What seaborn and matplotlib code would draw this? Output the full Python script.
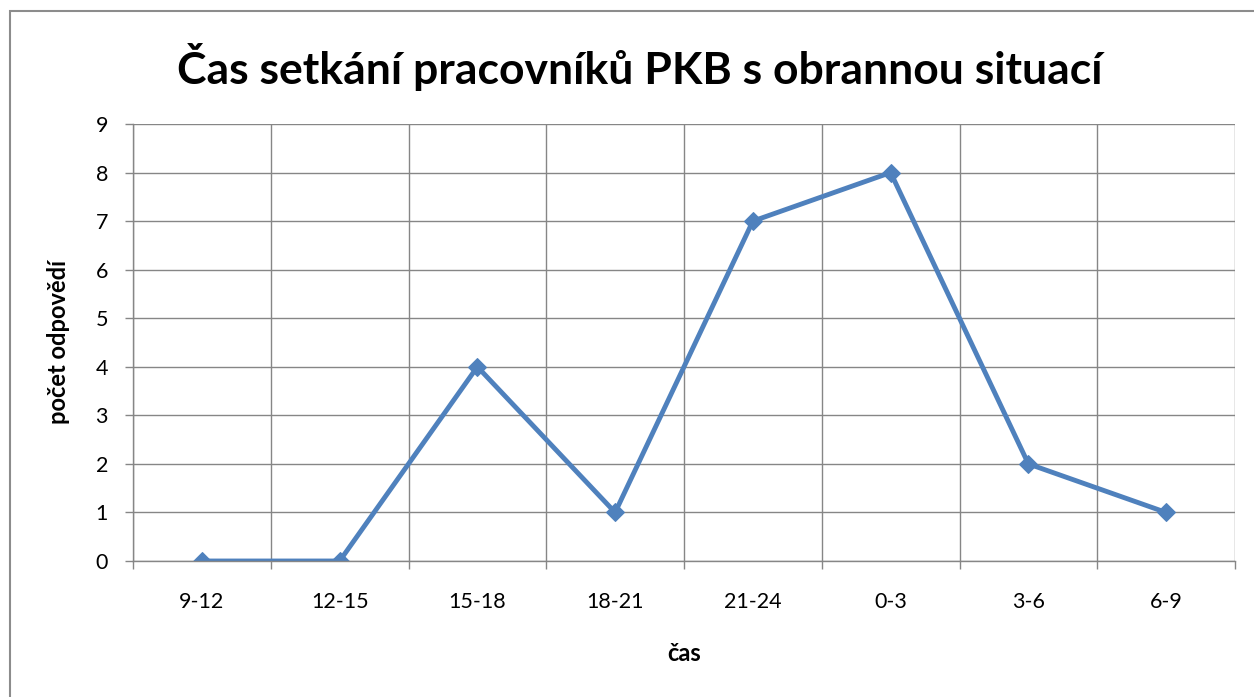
import pandas as pd
import numpy as np
import matplotlib.pyplot as plt
import matplotlib.patches as patches
import seaborn as sns

casy = ['9-12', '12-15', '15-18', '18-21', '21-24', '0-3', '3-6', '6-9']
pocty = [0, 0, 4, 1, 7, 8, 2, 1]

df = pd.DataFrame({'čas': casy, 'počet odpovědí': pocty})

sns.set_style('white')
plt.rcParams['font.family'] = ['Lato', 'DejaVu Sans']
plt.rcParams['text.color'] = 'black'
plt.rcParams['axes.labelcolor'] = 'black'
plt.rcParams['xtick.labelcolor'] = 'black'
plt.rcParams['ytick.labelcolor'] = 'black'

fig = plt.figure(figsize=(12.54, 6.97), dpi=100)
ax = fig.add_axes([133 / 1254, 1 - 561 / 697, (1235 - 133) / 1254, (561 - 124) / 697])

sns.lineplot(data=df, x='čas', y='počet odpovědí', sort=False, ax=ax,
             color='#4F81BD', linewidth=3.5, marker='D', markersize=9,
             markeredgecolor='#4F81BD')

grey = '#868686'
ax.set_xlim(-0.5, len(casy) - 0.5)
ax.set_ylim(0, 9)
ax.set_yticks(range(0, 10))
ax.set_xticks(range(len(casy)))
ax.set_xticklabels(casy)
ax.set_xticks(np.arange(-0.5, len(casy)), minor=True)
ax.grid(True, axis='y', color=grey, linewidth=1)
ax.grid(True, axis='x', which='minor', color=grey, linewidth=1)
ax.grid(False, axis='x', which='major')
ax.set_axisbelow(True)
ax.tick_params(axis='x', which='major', length=0, pad=22, labelsize=15.5)
ax.tick_params(axis='x', which='minor', length=6, color=grey, width=1, direction='out', bottom=True)
ax.tick_params(axis='y', length=6, color=grey, width=1, direction='out', left=True, pad=12, labelsize=15.5)
for s in ['top', 'right']:
    ax.spines[s].set_visible(False)
for s in ['left', 'bottom']:
    ax.spines[s].set_color(grey)
    ax.spines[s].set_linewidth(1)

ax.set_xlabel('čas', fontsize=17, fontweight='bold', labelpad=22)
ax.set_ylabel('počet odpovědí', fontsize=17, fontweight='bold', labelpad=18)

fig.text(0.51, 1 - 67 / 697, 'Čas setkání pracovníků PKB s obrannou situací',
         ha='center', va='center', fontsize=32, fontweight='bold')

fig.patches.append(patches.Rectangle((10 / 1254, -0.05), 1.2, 1 - 11 / 697 + 0.05,
                                     transform=fig.transFigure, fill=False,
                                     edgecolor='#8c8c8c', linewidth=1.5))

fig.savefig('out.png', dpi=100)
